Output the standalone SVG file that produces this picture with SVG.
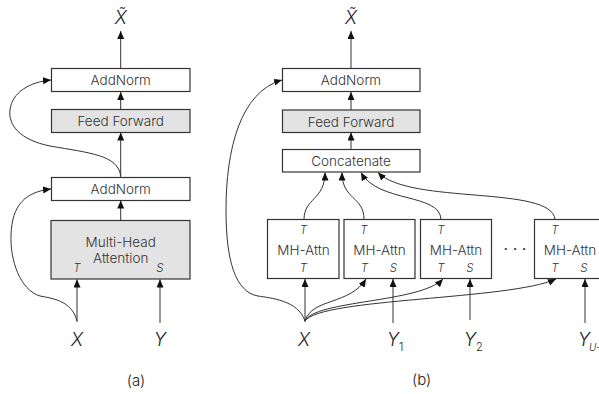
<svg xmlns="http://www.w3.org/2000/svg" width="599" height="394" viewBox="0 0 599 394">
<defs>
<marker id="ah" markerUnits="userSpaceOnUse" markerWidth="9" markerHeight="8" refX="8" refY="3.5" orient="auto">
<path d="M0,0 L8,3.5 L0,7 z" fill="#111"/>
</marker>
<style>
.box{fill:#fff;stroke:#333;stroke-width:1.2}
.gray{fill:#e3e3e3;stroke:#333;stroke-width:1.2}
.lbl{font-family:Inter,"Liberation Sans",Arial,sans-serif;font-weight:300;font-size:13.5px;fill:#333;text-anchor:middle}
.port{font-family:Inter,"Liberation Sans",Arial,sans-serif;font-weight:300;font-size:11.5px;font-style:italic;fill:#333;text-anchor:middle}
.var{font-family:Inter,"Liberation Sans",Arial,sans-serif;font-weight:300;font-size:18px;font-style:italic;fill:#222}
.sub{font-size:11px;font-style:normal}
.cap{font-family:Inter,"Liberation Sans",Arial,sans-serif;font-weight:300;font-size:15px;fill:#222;text-anchor:middle}
.c{fill:none;stroke:#333;stroke-width:1}
.a{marker-end:url(#ah)}
</style>
</defs>

<!-- Panel (a) -->
<g id="a-addnorm-top"><rect class="box" x="51.5" y="68.5" width="138.5" height="23"/><text class="lbl" x="120.7" y="85">AddNorm</text></g>
<g id="a-feedforward"><rect class="gray" x="51.5" y="109.5" width="138.5" height="23"/><text class="lbl" x="120.7" y="126">Feed Forward</text></g>
<g id="a-addnorm-low"><rect class="box" x="51.5" y="177.5" width="138.5" height="23"/><text class="lbl" x="120.7" y="194">AddNorm</text></g>
<g id="a-mha"><rect class="gray" x="51" y="220.5" width="139" height="58.5"/>
<text class="lbl" x="120.7" y="246.5">Multi-Head</text><text class="lbl" x="120.7" y="263">Attention</text>
<text class="port" x="77" y="272">T</text><text class="port" x="160" y="272">S</text></g>
<g id="a-xt"><text class="var" x="120.7" y="24" text-anchor="middle">X̃</text></g>
<g id="a-x"><text class="var" x="77" y="346" text-anchor="middle">X</text></g>
<g id="a-y"><text class="var" x="160" y="346" text-anchor="middle">Y</text></g>
<g id="a-cap"><text class="cap" x="136" y="386">(a)</text></g>

<!-- Panel (b) -->
<g id="b-addnorm"><rect class="box" x="282.5" y="68.5" width="137.5" height="23"/><text class="lbl" x="351" y="85">AddNorm</text></g>
<g id="b-feedforward"><rect class="gray" x="282.5" y="110" width="137.5" height="22.5"/><text class="lbl" x="351" y="126.5">Feed Forward</text></g>
<g id="b-concat"><rect class="box" x="282.5" y="149.5" width="137.5" height="22.5"/><text class="lbl" x="351" y="166">Concatenate</text></g>
<g id="b-mh1"><rect class="box" x="267.5" y="219.5" width="71.5" height="59"/>
<text class="port" x="303.5" y="234">T</text><text class="lbl" x="303.5" y="254.5">MH-Attn</text><text class="port" x="303.5" y="272">T</text></g>
<g id="b-mh2"><rect class="box" x="344" y="219.5" width="71" height="59"/>
<text class="port" x="364" y="234">T</text><text class="lbl" x="379.5" y="254.5">MH-Attn</text><text class="port" x="364.5" y="272">T</text><text class="port" x="393.5" y="272">S</text></g>
<g id="b-mh3"><rect class="box" x="420.5" y="219.5" width="71" height="59"/>
<text class="port" x="441" y="234">T</text><text class="lbl" x="456" y="254.5">MH-Attn</text><text class="port" x="441" y="272">T</text><text class="port" x="470" y="272">S</text></g>
<g id="b-dots"><text class="lbl" x="515" y="255" style="font-size:16px;font-weight:400">· · ·</text></g>
<g id="b-mh4"><rect class="box" x="534.5" y="219.5" width="71" height="59"/>
<text class="port" x="555" y="234">T</text><text class="lbl" x="570" y="254.5">MH-Attn</text><text class="port" x="555" y="272">T</text><text class="port" x="584" y="272">S</text></g>
<g id="b-xt"><text class="var" x="351" y="24" text-anchor="middle">X̃</text></g>
<g id="b-x"><text class="var" x="304" y="346" text-anchor="middle">X</text></g>
<g id="b-y1"><text class="var" x="387" y="346">Y<tspan class="sub" dy="5">1</tspan></text></g>
<g id="b-y2"><text class="var" x="464" y="346">Y<tspan class="sub" dy="5">2</tspan></text></g>
<g id="b-yu"><text class="var" x="578" y="346">Y<tspan class="sub" dy="5" dx="-1" style="font-style:italic;font-size:10px">U</tspan><tspan class="sub" style="font-style:normal;font-size:10px">-1</tspan></text></g>
<g id="b-cap"><text class="cap" x="421.7" y="385">(b)</text></g>

<g id="connectors">
<!-- panel a -->
<path class="c a" d="M120.7 68.5 V31"/>
<path class="c a" d="M120.7 109.5 V92"/>
<path class="c a" d="M120.7 177.5 V132.5"/>
<path class="c a" d="M120.7 220.5 V200.5"/>
<path class="c a" d="M77 322 V279.5"/>
<path class="c a" d="M160 323 V279.5"/>
<path class="c a" d="M120.7 176 C118 155, 90 153, 50 146 C20 140, 8 125, 10 110 C12 92, 30 82, 51 80"/>
<path class="c a" d="M77 321 C72 300, 50 298, 40 296 C20 290, 10 260, 11 235 C12 205, 25 192, 51 189"/>
<!-- panel b -->
<path class="c a" d="M351 68.5 V31"/>
<path class="c a" d="M351 110 V92"/>
<path class="c a" d="M351 149.5 V132.5"/>
<path class="c a" d="M304 219.5 C304 198, 325 200, 325 172.5"/>
<path class="c a" d="M364 219.5 C364 196, 342 200, 342 172.5"/>
<path class="c a" d="M441 219.5 C440 193, 378 203, 361 172.5"/>
<path class="c a" d="M555 219.5 C552 185, 410 205, 378 172.5"/>
<path class="c a" d="M305 322 V279"/>
<path class="c a" d="M305 321 C312 298, 350 305, 366 279"/>
<path class="c a" d="M305 321 C315 300, 420 303, 443 279"/>
<path class="c a" d="M305 321 C320 298, 510 300, 556 279"/>
<path class="c a" d="M393 323 V279"/>
<path class="c a" d="M470 320 V279"/>
<path class="c a" d="M585 323 V279"/>
<path class="c a" d="M305 321 C298 300, 270 298, 258 296 C235 292, 226 260, 226 210 C226 150, 240 92, 282 80"/>
</g>
</svg>
